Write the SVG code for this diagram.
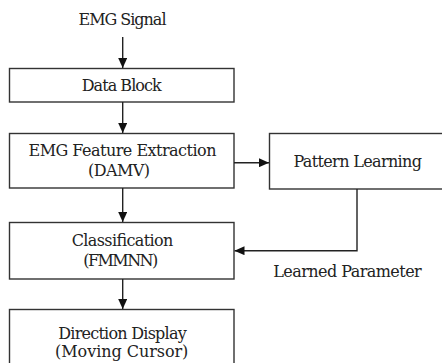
<svg xmlns="http://www.w3.org/2000/svg" width="442" height="363" viewBox="0 0 442 363">
<defs>
<style>
.box{fill:#fff;stroke:#333;stroke-width:1.4}
.ln{fill:none;stroke:#222;stroke-width:1.4}
</style>
<marker id="ah" markerWidth="10" markerHeight="9" refX="10" refY="4.5" orient="auto" markerUnits="userSpaceOnUse">
<path d="M0,0 L10,4.5 L0,9 Z" fill="#111"/>
</marker>
</defs>
<rect width="442" height="363" fill="#fff"/>
<g font-family="DejaVu Serif, serif" font-size="16" fill="#222" text-anchor="middle">
<g id="input"><text x="122.5" y="25" textLength="88">EMG Signal</text></g>
<g id="data-block">
<rect class="box" x="9.5" y="68.5" width="224.5" height="33.5"/>
<text x="121.7" y="90.7" textLength="80">Data Block</text>
</g>
<g id="feature-extraction">
<rect class="box" x="9.5" y="133.5" width="224.5" height="54.5"/>
<text x="122.5" y="155.7" textLength="188">EMG Feature Extraction</text>
<text x="119" y="175.5" textLength="62">(DAMV)</text>
</g>
<g id="pattern-learning">
<rect class="box" x="269.5" y="133.5" width="174" height="55.5"/>
<text x="357.7" y="166.7" textLength="128.5">Pattern Learning</text>
</g>
<g id="classification">
<rect class="box" x="9.5" y="222.5" width="224.5" height="56.5"/>
<text x="122.5" y="245.7" textLength="101.5">Classification</text>
<text x="120.8" y="266" textLength="75">(FMMNN)</text>
</g>
<g id="direction-display">
<rect class="box" x="9.5" y="309.5" width="224.5" height="60"/>
<text x="122.5" y="339" textLength="128.5">Direction Display</text>
<text x="121.7" y="357" textLength="133.3">(Moving Cursor)</text>
</g>
<g id="learned-label"><text x="347.5" y="276.7" textLength="148.4">Learned Parameter</text></g>
</g>
<g id="connectors">
<line class="ln" x1="122.7" y1="37" x2="122.7" y2="68" marker-end="url(#ah)"/>
<line class="ln" x1="122.7" y1="102" x2="122.7" y2="133" marker-end="url(#ah)"/>
<line class="ln" x1="234" y1="162.7" x2="269" y2="162.7" marker-end="url(#ah)"/>
<line class="ln" x1="122.7" y1="188" x2="122.7" y2="222" marker-end="url(#ah)"/>
<polyline class="ln" points="357,189 357,250.7 234.5,250.7" marker-end="url(#ah)"/>
<line class="ln" x1="122.7" y1="279" x2="122.7" y2="309" marker-end="url(#ah)"/>
</g>
</svg>
